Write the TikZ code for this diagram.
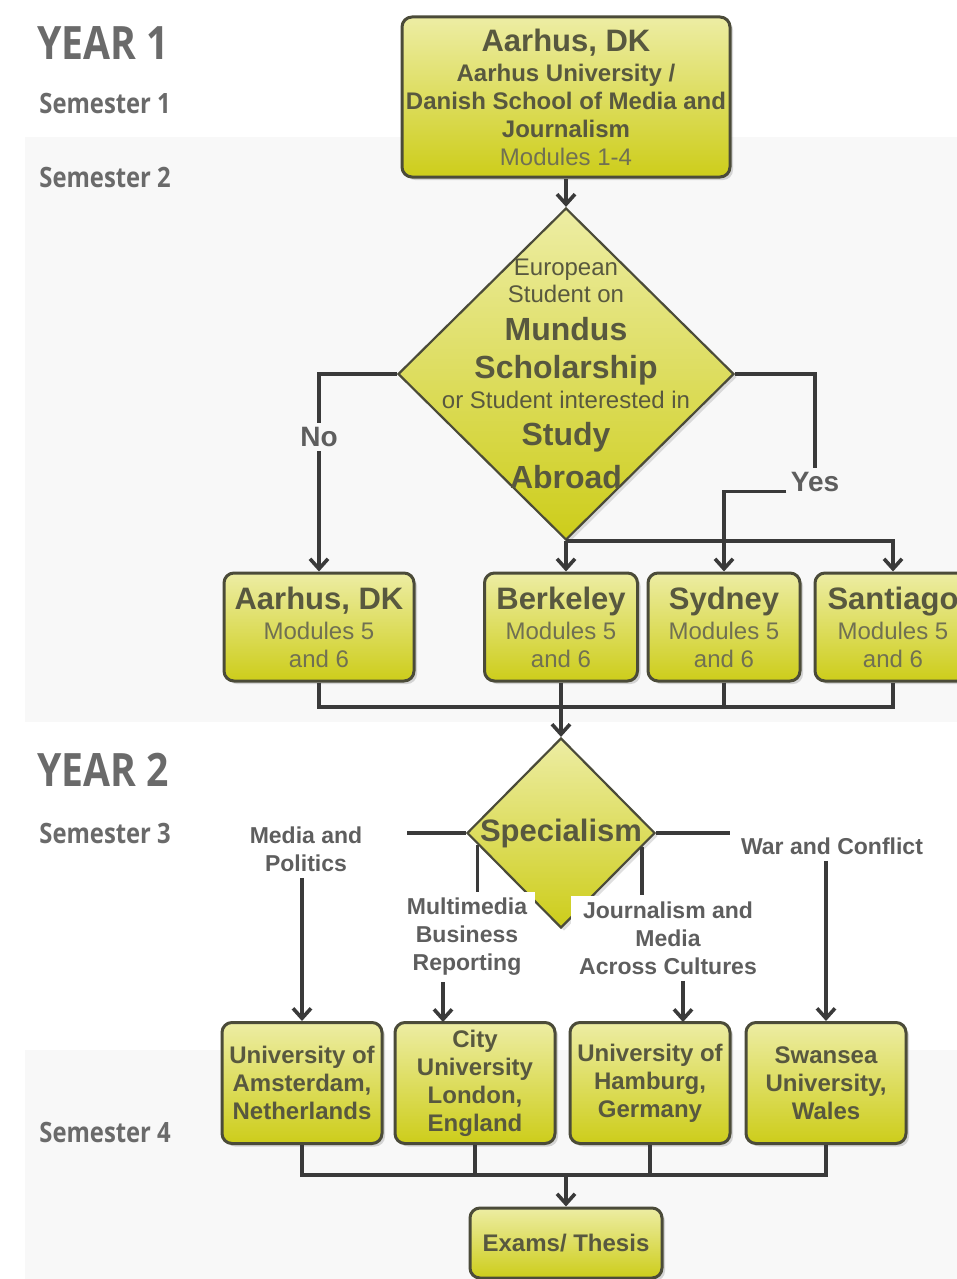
\documentclass[tikz,border=0pt]{standalone}
\usepackage{fontspec}
\setmainfont{Liberation Sans}
\newfontfamily\sidefont[FakeStretch=0.85]{Open Sans}
\usetikzlibrary{shapes.geometric,arrows.meta,shadows}

\definecolor{boxtop}{HTML}{EDEDA4}
\definecolor{boxbot}{HTML}{CDCD1A}
\definecolor{boxline}{HTML}{4B4B39}
\definecolor{boxtext}{HTML}{58583F}
\definecolor{modtext}{HTML}{707052}
\definecolor{linecol}{HTML}{3A3A3A}
\definecolor{labtext}{HTML}{5E5E5E}
\definecolor{sidetext}{HTML}{6A6A6A}
\definecolor{band}{HTML}{F8F8F8}

\newcommand{\modtxt}{\mdseries\color{modtext}}
\newcommand{\boxtitle}{\fontsize{15.5}{18}\bfseries\selectfont}
\newcommand{\qsmall}{\fontsize{12}{13.5}\mdseries\selectfont}
\newcommand{\qbig}{\fontsize{16}{13.5}\bfseries\selectfont}

\begin{document}
\begin{tikzpicture}[
        x=0.5pt, y=-0.5pt,
        box/.style={rectangle, rounded corners=5pt, draw=boxline, line width=1.5pt,
            top color=boxtop, bottom color=boxbot, text=boxtext, align=center,
            inner sep=1pt, font=\fontsize{12}{14}\bfseries\selectfont,
            drop shadow={shadow xshift=1.5pt, shadow yshift=-1.5pt, opacity=0.3}},
        decision/.style={diamond, draw=boxline, line width=1.1pt, inner sep=0pt,
            top color=boxtop, bottom color=boxbot,
            drop shadow={shadow xshift=1.5pt, shadow yshift=-1.5pt, opacity=0.25}},
        qtext/.style={text=boxtext, align=center, inner sep=0pt, font=\fontsize{12}{13.5}\selectfont},
        lbl/.style={text=labtext, align=center, inner xsep=4pt, inner ysep=3pt,
            font=\fontsize{11.5}{14}\bfseries\selectfont},
        yesno/.style={text=labtext, inner sep=2pt, font=\fontsize{14}{16}\bfseries\selectfont},
        side/.style={text=sidetext, anchor=base west, inner sep=0pt,
            font=\sidefont\bfseries\fontsize{14}{16}\selectfont},
        year/.style={side, font=\sidefont\bfseries\fontsize{23}{26}\selectfont},
        conn/.style={draw=linecol, line width=1.8pt},
        >={Straight Barb[length=5pt,width=9pt]},
    ]
    \fill[band] (25,137) rectangle (957,722);
    \fill[band] (25,1050) rectangle (957,1279);
    \useasboundingbox (0,0) rectangle (957,1279);

    % years / semesters down the left
    \node[year] (year1) at (37,60) {YEAR 1};
    \node[side] (sem1) at (39,113) {Semester 1};
    \node[side] (sem2) at (39,187) {Semester 2};
    \node[year] (year2) at (37,786) {YEAR 2};
    \node[side] (sem3) at (39,843) {Semester 3};
    \node[side] (sem4) at (39,1142) {Semester 4};

    % year 1
    \node[box, minimum width=164pt, minimum height=80pt] (aarhus1) at (566,97)
        {\boxtitle Aarhus, DK\\[1pt] Aarhus University /\\ Danish School of Media and\\ Journalism\\ \modtxt Modules 1-4};
    \node[decision, minimum width=168pt, minimum height=166pt] (abroad) at (566,374) {};
    \node[qtext] (abroadtxt) at (abroad)
        {\qsmall European\\ \qsmall Student on\\[5.5pt] \qbig Mundus\\[5.5pt] \qbig Scholarship\\[1.5pt]
         \qsmall or Student interested in\\[5pt] \qbig Study\\[5.5pt] \qbig Abroad};

    \node[box, minimum width=95pt, minimum height=54pt] (aarhus2) at (319,627)
        {\boxtitle Aarhus, DK\\[1pt] \modtxt Modules 5\\ \modtxt and 6};
    \node[box, minimum width=76.5pt, minimum height=54pt] (berkeley) at (561,627)
        {\boxtitle Berkeley\\[1pt] \modtxt Modules 5\\ \modtxt and 6};
    \node[box, minimum width=76pt, minimum height=54pt] (sydney) at (724,627)
        {\boxtitle Sydney\\[1pt] \modtxt Modules 5\\ \modtxt and 6};
    \node[box, minimum width=78pt, minimum height=54pt] (santiago) at (893,627)
        {\boxtitle Santiago\\[1pt] \modtxt Modules 5\\ \modtxt and 6};

    \node[yesno] (yes) at (815,482) {Yes};

    \draw[conn,->] (aarhus1) -- (abroad);
    \draw[conn,->] (abroad.west) -| node[yesno, pos=0.66, fill=band] (no) {No} (aarhus2.north);
    \draw[conn] (abroad.east) -| (yes.north);
    \draw[conn,->] (yes.base west) -| (sydney.north);
    \draw[conn,->] (abroad.south) -- (abroad.south |- berkeley.north);
    \draw[conn,->] (abroad.south) -| (santiago.north);

    % year 2
    \node[decision, minimum width=94pt, minimum height=95pt] (spec) at (561,833) {};
    \node[qtext, font=\boxtitle] (spectxt) at (spec) {Specialism};

    \coordinate (merge1) at (561,707);
    \draw[conn] (aarhus2.south) |- (merge1 -| santiago.south) -- (santiago.south);
    \draw[conn] (sydney.south) -- (sydney.south |- merge1);
    \draw[conn,->] (berkeley.south) -- (spec.north);

    \node[lbl] (media) at (306,849) {Media and\\ Politics};
    \node[lbl, fill=white] (multi) at (467,937) {Multimedia\\ Business\\ Reporting};
    \node[lbl, fill=white] (journ) at (668,938) {Journalism and\\ Media\\ Across Cultures};
    \node[lbl] (war) at (832,846) {War and Conflict};

    \node[box, minimum width=80pt, minimum height=60.5pt] (amsterdam) at (302,1083)
        {University of\\ Amsterdam,\\ Netherlands};
    \node[box, minimum width=80pt, minimum height=60.5pt] (city) at (475,1083)
        {City\\ University\\ London,\\ England};
    \node[box, minimum width=80pt, minimum height=60.5pt] (hamburg) at (650,1083)
        {University of\\ Hamburg,\\ Germany};
    \node[box, minimum width=80pt, minimum height=60.5pt] (swansea) at (826,1083)
        {Swansea\\ University,\\ Wales};
    \node[box, minimum width=96pt, minimum height=35pt] (exams) at (566,1243) {Exams/ Thesis};

    \coordinate (mediaend) at (407,833);
    \coordinate (warend) at (730,833);
    \coordinate (cityin) at (443,1022);
    \coordinate (hamburgin) at (683,1022);

    \draw[conn] (spec.west) -- (mediaend);
    \draw[conn,->] (media.south -| amsterdam.north) -- (amsterdam.north);
    \draw[conn] (spec.188) -- (spec.188 |- multi.north);
    \draw[conn,->] (multi.south -| cityin) -- (cityin);
    \draw[conn] (spec.-10) -- (spec.-10 |- journ.north);
    \draw[conn,->] (journ.south -| hamburgin) -- (hamburgin);
    \draw[conn] (spec.east) -- (warend);
    \draw[conn,->] (war.south -| swansea.north) -- (swansea.north);

    % all four into the exams
    \coordinate (merge2) at (566,1175);
    \draw[conn] (amsterdam.south) |- (merge2 -| swansea.south) -- (swansea.south);
    \draw[conn] (city.south) -- (city.south |- merge2);
    \draw[conn] (hamburg.south) -- (hamburg.south |- merge2);
    \draw[conn,->] (merge2) -- (exams.north);
\end{tikzpicture}
\end{document}
